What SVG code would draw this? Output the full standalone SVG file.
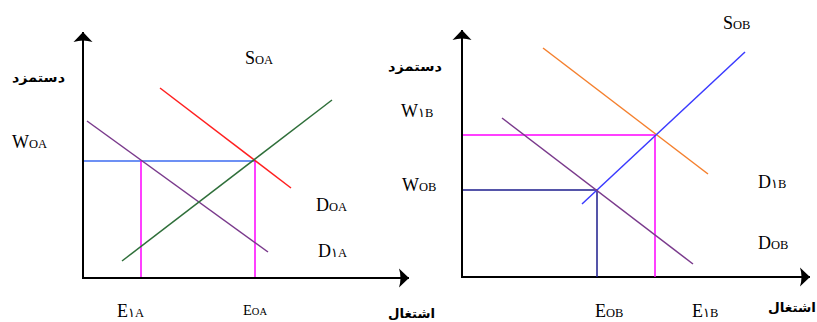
<svg xmlns="http://www.w3.org/2000/svg" width="817" height="322" viewBox="0 0 817 322">
<style>
.ax{stroke:#000;stroke-width:2;fill:none;marker-end:url(#arr)}
.ln{stroke-width:1.5;fill:none}
.lb{font-family:"Liberation Serif","Times New Roman",serif;font-size:18px;fill:#000}
.sb{font-size:12.5px}
.fa{font-family:"DejaVu Sans","Noto Sans",sans-serif;font-size:13px;font-weight:bold;fill:#000}
</style>
<defs>
<marker id="arr" markerUnits="userSpaceOnUse" markerWidth="24" markerHeight="24" refX="12" refY="12" orient="auto" viewBox="0 0 24 24">
<path d="M12,12 L2,2.5 Q5,12 2,21.5 Z" fill="#000"/>
</marker>
</defs>
<rect width="817" height="322" fill="#fff"/>
<g id="connectors">
<g id="panelA">
<line class="ax" x1="83" y1="278" x2="83" y2="32"/>
<line class="ax" x1="82" y1="278" x2="409" y2="278"/>
<line class="ln" stroke="#3D6BF0" x1="84" y1="161" x2="255" y2="161"/>
<line class="ln" stroke="#FF00FF" x1="141" y1="161" x2="141" y2="277"/>
<line class="ln" stroke="#FF00FF" x1="255" y1="161" x2="255" y2="277"/>
<line class="ln" stroke="#7A3A8C" x1="87" y1="121" x2="268" y2="252"/>
<line class="ln" stroke="#FF2020" x1="160" y1="88" x2="291" y2="188"/>
<line class="ln" stroke="#2F6F3A" x1="122" y1="261" x2="332" y2="100"/>
</g>
<g id="panelB">
<line class="ax" x1="462" y1="277" x2="462" y2="30"/>
<line class="ax" x1="461" y1="277" x2="810" y2="277"/>
<line class="ln" stroke="#FF00FF" x1="463" y1="135" x2="655" y2="135"/>
<line class="ln" stroke="#FF00FF" x1="655" y1="135" x2="655" y2="277"/>
<line class="ln" stroke="#1C1C8C" stroke-width="2" x1="463" y1="190" x2="597" y2="190"/>
<line class="ln" stroke="#1C1C8C" stroke-width="2" x1="597" y1="190" x2="597" y2="277"/>
<line class="ln" stroke="#F5802E" x1="543" y1="48" x2="708" y2="174"/>
<line class="ln" stroke="#3A3AFF" x1="582" y1="204" x2="745" y2="52"/>
<line class="ln" stroke="#7A3A8C" x1="502" y1="118" x2="693" y2="264"/>
</g>
</g>
<g id="labelsA">
<g id="SOA"><text class="lb" x="245" y="64">S<tspan class="sb">OA</tspan></text></g>
<g id="WOA"><text class="lb" x="12" y="148">W<tspan class="sb">OA</tspan></text></g>
<g id="DOA"><text class="lb" x="316" y="211">D<tspan class="sb">OA</tspan></text></g>
<g id="D1A"><text class="lb" x="318" y="257">D<tspan class="sb">۱A</tspan></text></g>
<g id="E1A"><text class="lb" x="117" y="317">E<tspan class="sb">۱A</tspan></text></g>
<g id="EOA"><text class="lb" x="243" y="315" style="font-size:14.5px">E<tspan style="font-size:10.5px">OA</tspan></text></g>
<g id="wageA"><text class="fa" x="12" y="82" textLength="53" lengthAdjust="spacingAndGlyphs">دستمزد</text></g>
<g id="empA"><text class="fa" x="388" y="318" textLength="47" lengthAdjust="spacingAndGlyphs">اشتغال</text></g>
</g>
<g id="labelsB">
<g id="SOB"><text class="lb" x="723" y="29">S<tspan class="sb">OB</tspan></text></g>
<g id="W1B"><text class="lb" x="401" y="117">W<tspan class="sb">۱B</tspan></text></g>
<g id="WOB"><text class="lb" x="402" y="191">W<tspan class="sb">OB</tspan></text></g>
<g id="D1B"><text class="lb" x="758" y="188">D<tspan class="sb">۱B</tspan></text></g>
<g id="DOB"><text class="lb" x="758" y="249">D<tspan class="sb">OB</tspan></text></g>
<g id="EOB"><text class="lb" x="595" y="317">E<tspan class="sb">OB</tspan></text></g>
<g id="E1B"><text class="lb" x="692" y="317">E<tspan class="sb">۱B</tspan></text></g>
<g id="wageB"><text class="fa" x="388" y="71" textLength="54" lengthAdjust="spacingAndGlyphs">دستمزد</text></g>
<g id="empB"><text class="fa" x="768" y="312" textLength="48" lengthAdjust="spacingAndGlyphs">اشتغال</text></g>
</g>
</svg>
